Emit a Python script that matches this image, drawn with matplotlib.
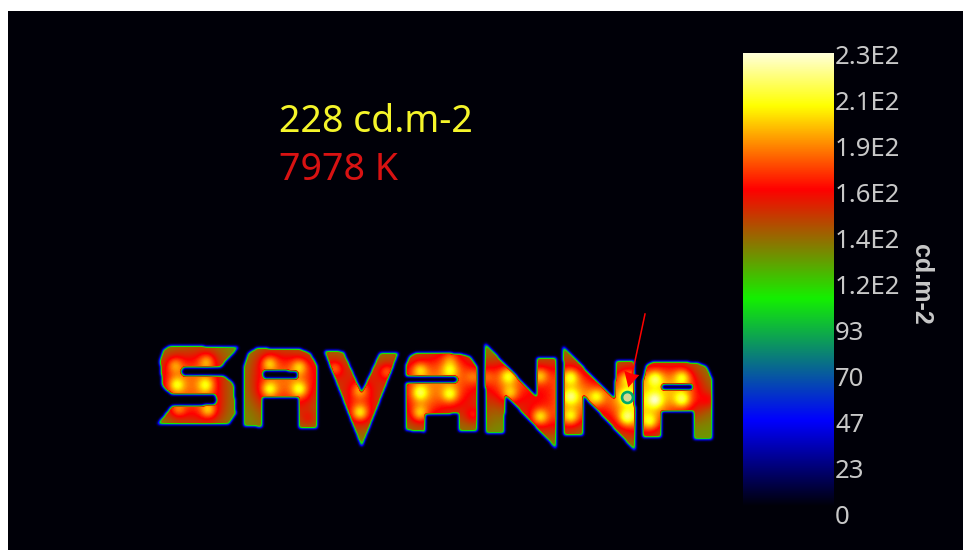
import numpy as np
import matplotlib
matplotlib.use('Agg')
import matplotlib.pyplot as plt
from matplotlib.colors import LinearSegmentedColormap
from matplotlib.path import Path

# colour scale of the luminance map
cbar_max = 230
cmap_stops = [0.0, 0.19, 0.46, 0.70, 0.885, 1.0]
cmap_colors = ['#000008', '#0000ff', '#14f000', '#ff0000', '#ffff00', '#ffffd8']
tick_labels = ['2.3E2', '2.1E2', '1.9E2', '1.6E2', '1.4E2', '1.2E2', '93', '70', '47', '23', '0']
unit_label = 'cd.m-2'
readings = ['228 cd.m-2', '7978 K']


def crop1(pts):
    return [(140 + x / 3, 330 + y / 3) for x, y in pts]


def crop2(pts):
    return [(430 + x / 3, 300 + y / 3) for x, y in pts]


letter_s = crop1([(60, 90), (70, 60), (90, 47), (295, 52), (240, 112), (130, 112), (120, 125), (130, 137),
                  (250, 137), (280, 160), (287, 250), (265, 283), (52, 283), (97, 228), (225, 226),
                  (232, 210), (225, 192), (95, 192), (68, 170)])
letter_a1 = crop1([(312, 110), (325, 70), (350, 55), (480, 57), (510, 70), (530, 105), (530, 295), (477, 295),
                   (477, 202), (365, 200), (365, 290), (312, 288)])
hole_a1 = crop1([(372, 120), (470, 122), (476, 135), (470, 148), (372, 146), (366, 133)])
letter_v = crop1([(553, 62), (610, 65), (665, 190), (720, 68), (775, 68), (665, 350)])
letter_a2 = crop1([(797, 110), (808, 80), (830, 68), (900, 68), (960, 72), (990, 80), (1010, 110), (1010, 230),
                   (1010, 302), (958, 302), (958, 250), (855, 252), (855, 305), (797, 300)])
hole_a2 = crop2([(-80, 228), (78, 228), (85, 238), (78, 250), (-80, 250), (-88, 238)])
letter_n1 = crop2([(165, 130), (320, 293), (322, 175), (378, 175), (378, 445), (225, 282), (222, 400), (168, 400)])
letter_n2 = crop2([(400, 140), (555, 300), (558, 183), (612, 183), (615, 452), (460, 285), (458, 405), (403, 405)])
letter_a3 = crop2([(640, 240), (650, 195), (670, 185), (800, 188), (830, 200), (847, 240), (847, 418), (793, 418),
                   (793, 332), (693, 332), (693, 412), (640, 412)])
hole_a3 = crop2([(698, 252), (785, 252), (790, 261), (785, 270), (698, 270), (692, 261)])

letters = [letter_s, letter_a1, letter_v, letter_a2, letter_n1, letter_n2, letter_a3]
holes = [hole_a1, hole_a2, hole_a3]

# lamps behind the sign: x, y, strength
lamps = [(x, y, s) for x, y, s in
         [(140 + a / 3, 330 + b / 3, c) for a, b, c in
          [(105, 105, 0.75), (200, 95, 0.85), (110, 165, 1.0), (198, 165, 1.0), (205, 240, 0.95), (115, 238, 0.7),
           (388, 100, 0.95), (478, 110, 0.9), (388, 178, 1.1), (478, 178, 1.1), (400, 265, 0.4), (505, 265, 0.4),
           (585, 115, 0.75), (740, 125, 0.7), (660, 180, 0.8), (660, 248, 1.1),
           (840, 120, 0.9), (840, 188, 1.05), (840, 250, 0.9)]]
         + [(430 + a / 3, 300 + b / 3, c) for a, b, c in
            [(60, 210, 0.85), (60, 283, 1.05), (130, 345, 0.55), (130, 230, 0.5), (60, 175, 0.5),
             (235, 228, 1.0), (330, 228, 0.95), (240, 280, 0.8), (330, 350, 1.1), (170, 230, 0.4),
             (422, 230, 1.05), (422, 290, 1.0), (422, 350, 0.95), (500, 290, 1.0), (590, 290, 1.05),
             (590, 352, 1.1), (590, 235, 0.8),
             (675, 235, 1.05), (675, 300, 1.1), (660, 365, 0.95), (757, 232, 1.0), (757, 298, 1.1),
             (835, 300, 0.4)]]]


def blur(img, sigma):
    r = int(sigma * 4)
    k = np.exp(-np.arange(-r, r + 1) ** 2 / (2 * sigma ** 2))
    k /= k.sum()
    img = np.apply_along_axis(lambda v: np.convolve(v, k, mode='same'), 0, img)
    return np.apply_along_axis(lambda v: np.convolve(v, k, mode='same'), 1, img)


# build the luminance picture on a pixel grid
xs = np.arange(8, 963) + 0.5
ys = np.arange(11, 550) + 0.5
gx, gy = np.meshgrid(xs, ys)
pts = np.column_stack([gx.ravel(), gy.ravel()])

mask = np.zeros(gx.shape)
for poly in letters:
    mask[Path(poly).contains_points(pts).reshape(gx.shape)] = 1
for poly in holes:
    mask[Path(poly).contains_points(pts).reshape(gx.shape)] = 0

level = np.full(gx.shape, 126.0)
for lx, ly, s in lamps:
    d2 = (gx - lx) ** 2 + (gy - ly) ** 2
    level += s * (29 * np.exp(-d2 / (2 * 15 ** 2)) + 30 * np.exp(-d2 / (2 * 5.5 ** 2)))

# soft edge ramp so the rim runs brown, green, blue into the background
edge = np.clip(blur(mask, 1.5) * 1.2, 0, 1)
field = np.clip(level * edge, 0, cbar_max)

cmap = LinearSegmentedColormap.from_list('lum', list(zip(cmap_stops, cmap_colors)))

fig = plt.figure(figsize=(9.63, 5.5), dpi=100, facecolor='white')
ax = fig.add_axes([0, 0, 1, 1])
ax.imshow(field, cmap=cmap, vmin=0, vmax=cbar_max, extent=(8, 963, 550, 11), aspect='auto',
          interpolation='bilinear')

# colour bar
gradient = np.linspace(cbar_max, 0, 256)[:, None]
ax.imshow(gradient, cmap=cmap, vmin=0, vmax=cbar_max, extent=(743, 834, 507, 53), aspect='auto')
for i, label in enumerate(tick_labels):
    ax.text(835, 57 + i * 46, label, color='#c8c8c8', fontsize=18.5, family='Noto Sans', va='center', ha='left')
ax.text(921, 284, unit_label, color='#c8c8c8', fontsize=18, family='Liberation Sans', weight='bold', rotation=-90,
        va='center', ha='center')

# readings at the measuring point
ax.text(279, 132.5, readings[0], color='#f5f52a', fontsize=27, family='Noto Sans', va='baseline')
ax.text(279, 180, readings[1], color='#d81212', fontsize=27, family='Noto Sans', va='baseline')

# arrow and measuring spot
ax.plot([645, 632], [314, 375], color='#ff0000', lw=1.1)
ax.fill([628.3, 624.3, 632.5, 639.3], [387.5, 370.7, 374, 375], color='#ff0000', lw=0)
ax.scatter([627.3], [397], s=62, facecolor='#d8d890', edgecolor='#00a86b', linewidth=1.9, zorder=5)

ax.set_xlim(0, 963)
ax.set_ylim(550, 0)
ax.axis('off')

fig.savefig('out.png', dpi=100, facecolor='white')
